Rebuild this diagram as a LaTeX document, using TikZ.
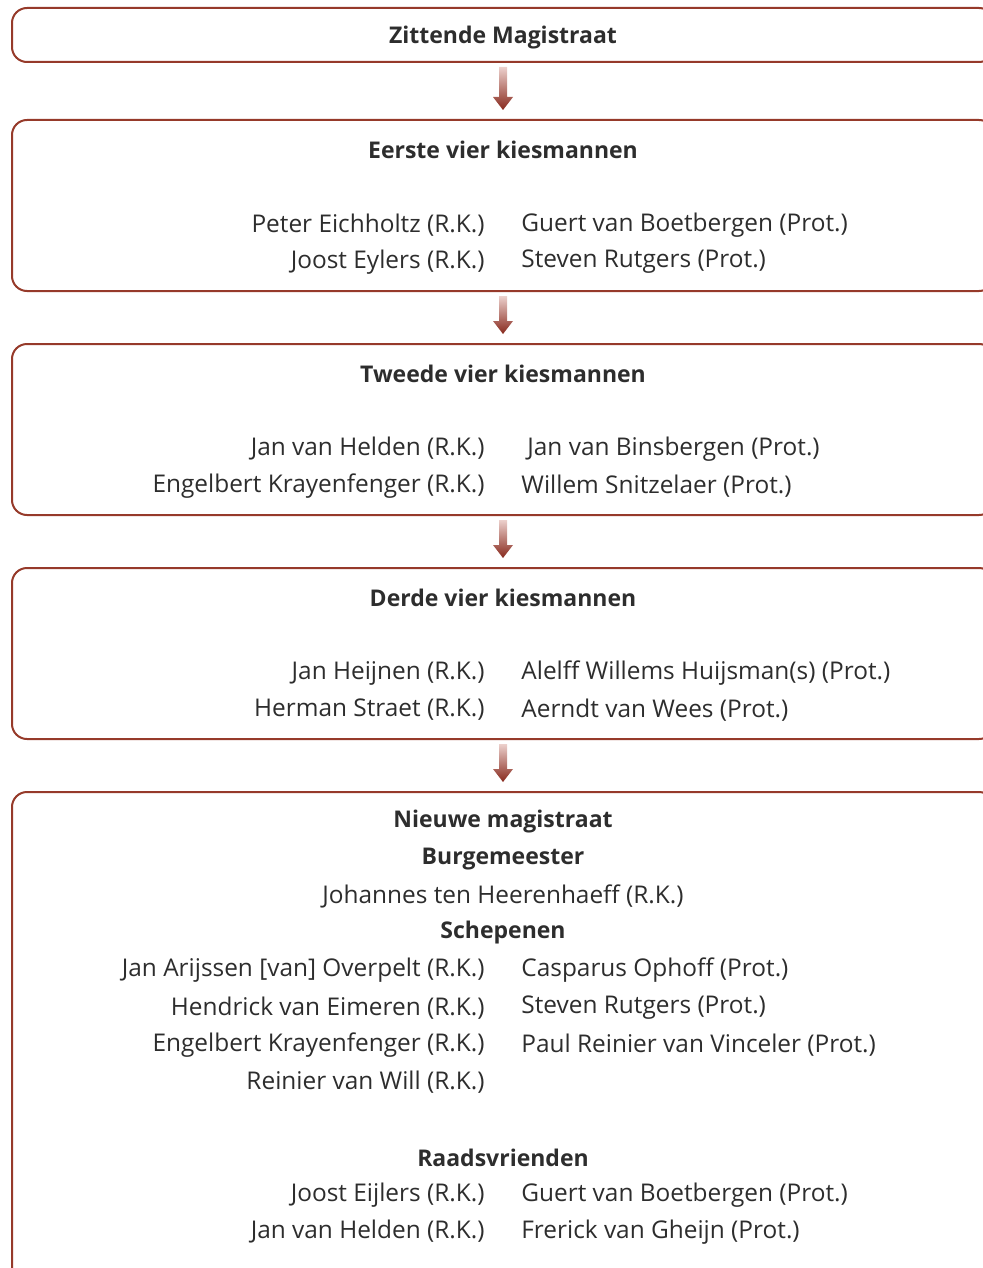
\documentclass[tikz,border=0pt]{standalone}
\usepackage{fontspec}
\setmainfont{Open Sans}
\usetikzlibrary{arrows.meta, positioning, calc}
\definecolor{boxline}{RGB}{150,58,42}
\definecolor{arrowtop}{RGB}{236,208,204}
\definecolor{arrowbot}{RGB}{135,40,28}
\definecolor{inkgray}{RGB}{45,45,45}

% shaded arrow from one box down to the next
\newcommand{\stagearrow}[2]{%
  \shade[top color=arrowtop, bottom color=arrowbot]
    ($(#1.south)+(-4,4)$) -- ($(#1.south)+(4,4)$) --
    ($(#2.north)+(4,-22)$) -- ($(#2.north)+(10,-22)$) --
    ($(#2.north)+(0,-9)$) -- ($(#2.north)+(-10,-22)$) --
    ($(#2.north)+(-4,-22)$) -- cycle;}

\begin{document}
\begin{tikzpicture}[x=0.5pt, y=-0.5pt,
    stage/.style={draw=boxline, line width=1pt, rounded corners=7.5pt, minimum width=491pt, inner sep=0pt},
    every node/.style={text=inkgray, inner sep=0pt, font=\fontsize{12.2}{14}\selectfont},
    head/.style={font=\fontsize{11.5}{14}\selectfont\bfseries},
    lname/.style={anchor=east},
    rname/.style={anchor=west}]
    \useasboundingbox (0,0) rectangle (983,1268);

    % Boxes
    \node (zitten) [stage, minimum height=27pt] at (503,35) {};
    \node (eerste) [stage, minimum height=85.5pt] at (503,205.5) {};
    \node (tweede) [stage, minimum height=85.5pt] at (503,429.5) {};
    \node (derde) [stage, minimum height=85.5pt] at (503,653.5) {};
    \node (nieuw) [stage, minimum height=244.5pt] at (503,1036.5) {};

    % Arrows
    \stagearrow{zitten}{eerste}
    \stagearrow{eerste}{tweede}
    \stagearrow{tweede}{derde}
    \stagearrow{derde}{nieuw}

    % Zittende magistraat
    \node (zittitle) [head] at (503,38) {Zittende Magistraat};

    % Eerste vier
    \node (eertitle) [head] at (503,150) {Eerste vier kiesmannen};
    \node (eer1) [lname] at (485,225) {Peter Eichholtz (R.K.)};
    \node (eer2) [rname] at (521,225) {Guert van Boetbergen (Prot.)};
    \node (eer3) [lname] at (485,262) {Joost Eylers (R.K.)};
    \node (eer4) [rname] at (521,262) {Steven Rutgers (Prot.)};

    % Tweede vier
    \node (twetitle) [head] at (503,374) {Tweede vier kiesmannen};
    \node (twe1) [lname] at (485,449) {Jan van Helden (R.K.)};
    \node (twe2) [rname] at (527,449) {Jan van Binsbergen (Prot.)};
    \node (twe3) [lname] at (485,486) {Engelbert Krayenfenger (R.K.)};
    \node (twe4) [rname] at (521,486) {Willem Snitzelaer (Prot.)};

    % Derde vier
    \node (dertitle) [head] at (503,598) {Derde vier kiesmannen};
    \node (der1) [lname] at (485,673) {Jan Heijnen (R.K.)};
    \node (der2) [rname] at (521,673) {Alelff Willems Huijsman(s) (Prot.)};
    \node (der3) [lname] at (485,710) {Herman Straet (R.K.)};
    \node (der4) [rname] at (521,710) {Aerndt van Wees (Prot.)};

    % Nieuwe magistraat
    \node (nieutitle) [head] at (503,822) {Nieuwe magistraat};
    \node (burgtitle) [head] at (503,859) {Burgemeester};
    \node (burg) at (503,896) {Johannes ten Heerenhaeff (R.K.)};
    \node (schetitle) [head] at (503,933) {Schepenen};
    \node (sch1) [lname] at (485,970) {Jan Arijssen [van] Overpelt (R.K.)};
    \node (sch2) [rname] at (521,970) {Casparus Ophoff (Prot.)};
    \node (sch3) [lname] at (485,1008) {Hendrick van Eimeren (R.K.)};
    \node (sch4) [rname] at (521,1008) {Steven Rutgers (Prot.)};
    \node (sch5) [lname] at (485,1045) {Engelbert Krayenfenger (R.K.)};
    \node (sch6) [rname] at (521,1045) {Paul Reinier van Vinceler (Prot.)};
    \node (sch7) [lname] at (485,1082) {Reinier van Will (R.K.)};
    \node (raadtitle) [head] at (503,1158) {Raadsvrienden};
    \node (raad1) [lname] at (485,1195) {Joost Eijlers (R.K.)};
    \node (raad2) [rname] at (521,1195) {Guert van Boetbergen (Prot.)};
    \node (raad3) [lname] at (485,1232) {Jan van Helden (R.K.)};
    \node (raad4) [rname] at (521,1232) {Frerick van Gheijn (Prot.)};
\end{tikzpicture}
\end{document}
